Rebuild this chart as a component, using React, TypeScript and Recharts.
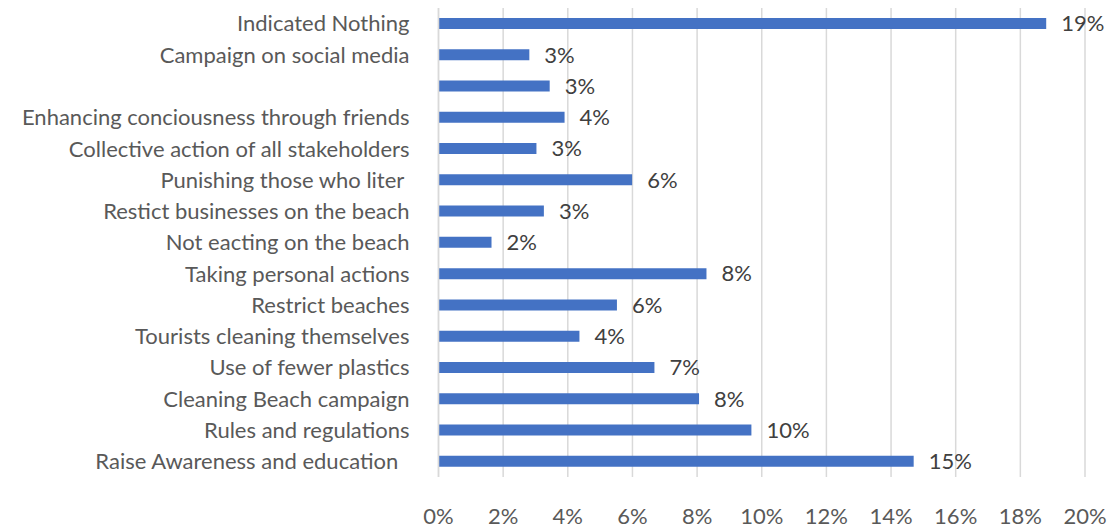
import React from "react";
import { BarChart, Bar, XAxis, YAxis, CartesianGrid, LabelList } from "recharts";

const categories: string[] = [
  "Indicated Nothing",
  "Campaign on social media",
  "",
  "Enhancing conciousness through friends",
  "Collective action of all stakeholders",
  "Punishing those who liter\u00A0",
  "Restict businesses on the beach",
  "Not eacting on the beach",
  "Taking personal actions",
  "Restrict beaches",
  "Tourists cleaning themselves",
  "Use of fewer plastics",
  "Cleaning Beach campaign",
  "Rules and regulations",
  "Raise Awareness and education\u00A0\u00A0",
];

const values: number[] = [
  18.8, 2.81, 3.44, 3.9, 3.03, 5.99, 3.26, 1.64, 8.29, 5.52, 4.36, 6.68, 8.06, 9.68, 14.7,
];

const xTicks: number[] = [0, 2, 4, 6, 8, 10, 12, 14, 16, 18, 20];

const data = categories.map((name, i) => ({ name, value: values[i] }));

const FONT = "Lato, 'Open Sans', sans-serif";
const FS = 22;

export default function App() {
  return (
    <div style={{ position: "absolute", left: 0, top: 0, width: 1113, height: 528, background: "#fff" }}>
      <BarChart
        width={1113}
        height={528}
        data={data}
        layout="vertical"
        margin={{ top: 8, right: 28, bottom: 0, left: 0 }}
        barCategoryGap={0}
      >
        <CartesianGrid horizontal={false} stroke="#d9d9d9" strokeWidth={1.5} />
        <XAxis
          type="number"
          domain={[0, 20]}
          ticks={xTicks}
          tickFormatter={(v: number) => `${v}%`}
          axisLine={false}
          tickLine={false}
          tickMargin={25}
          height={51}
          interval={0}
          tick={{ fill: "#595959", fontSize: FS, fontFamily: FONT }}
        />
        <YAxis
          type="category"
          dataKey="name"
          width={438.5}
          axisLine={{ stroke: "#d9d9d9", strokeWidth: 1.5 }}
          tickLine={false}
          tickMargin={23}
          interval={0}
          tick={{ fill: "#595959", fontSize: FS, fontFamily: FONT }}
        />
        <Bar dataKey="value" fill="#4472C4" barSize={11} isAnimationActive={false}>
          <LabelList
            dataKey="value"
            position="right"
            offset={15}
            formatter={(v: number) => `${Math.round(v)}%`}
            style={{ fill: "#404040", fontSize: FS, fontFamily: FONT }}
          />
        </Bar>
      </BarChart>
    </div>
  );
}
